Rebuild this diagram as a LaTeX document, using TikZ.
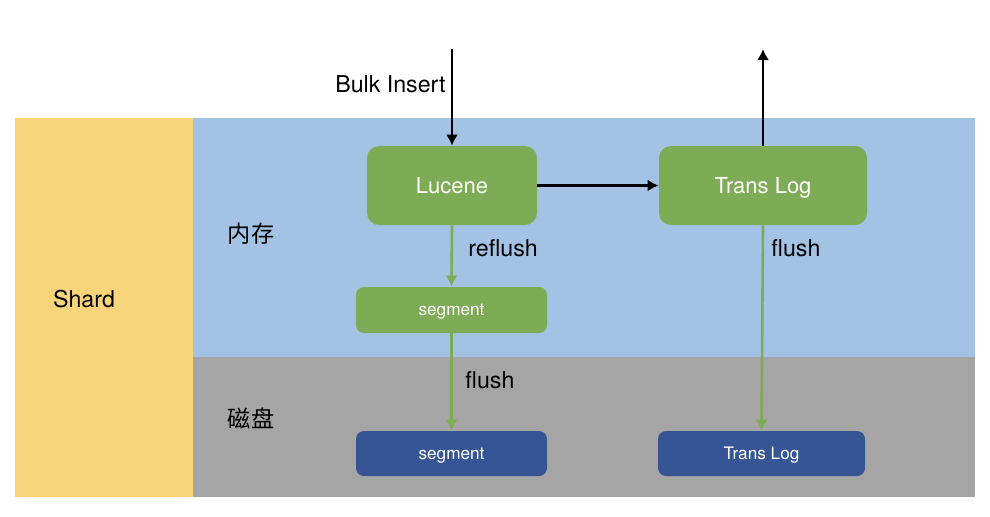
\documentclass[tikz,border=0pt]{standalone}
\usepackage{fontspec}
\setmainfont{TeX Gyre Heros}
\newfontfamily\cjk{Noto Sans CJK SC}
\usetikzlibrary{arrows.meta}
\tikzset{>={Latex[length=5.5pt,width=6pt]}}
\definecolor{mem}{HTML}{A4C2E4}
\definecolor{disk}{HTML}{A5A5A5}
\definecolor{shardc}{HTML}{F8D57A}
\definecolor{g1}{HTML}{7EAB55}
\definecolor{b1}{HTML}{365594}
\newcommand\labelfont{\fontsize{11.6}{14}\selectfont}
\tikzstyle{big box}=[fill=g1,text=white,rounded corners=6pt,minimum height=39.5pt,text depth=0pt,font=\fontsize{11}{13}\selectfont]
\tikzstyle{small box}=[text=white,rounded corners=4pt,minimum width=95.5pt,text depth=0pt,font=\fontsize{8.6}{10}\selectfont]
\tikzstyle{flow}=[->,black,line width=1.4pt]
\tikzstyle{green flow}=[->,g1,line width=1.3pt]
\tikzstyle{lbl}=[font=\labelfont,inner sep=0pt]

\begin{document}
\begin{tikzpicture}[x=0.5pt,y=-0.5pt]
  \useasboundingbox (0,0) rectangle (990,516);
  \fill[shardc] (15,118) rectangle (193,497);
  \fill[mem] (193,118) rectangle (975,357);
  \fill[disk] (193,357) rectangle (975,497);
  \node[lbl] (shard) at (84,299) {Shard};
  \node[lbl,font=\labelfont\cjk] (memlbl) at (251,234) {内存};
  \node[lbl,font=\labelfont\cjk] (disklbl) at (251,418) {磁盘};
  % memory
  \node[big box,minimum width=85pt] (lucene) at (452,185.5) {Lucene};
  \node[big box,minimum width=104pt] (translog) at (763,185.5) {Trans Log};
  \node[small box,fill=g1,minimum height=23pt] (segmem) at (451.5,310) {segment};
  % disk
  \node[small box,fill=b1,minimum height=22.5pt] (segdisk) at (451.5,453.5) {segment};
  \node[small box,fill=b1,minimum width=103.5pt,minimum height=22.5pt] (transdisk) at (761.5,453.5) {Trans Log};
  \coordinate (in) at (452,49);
  \coordinate (out) at (763,49);
  \draw[flow] (in) -- (lucene.north);
  \draw[flow] (translog.north) -- (out);
  \draw[flow] (lucene.east) -- (translog.west);
  \draw[green flow] (lucene.south) -- (segmem.north);
  \draw[green flow] (segmem.south) -- (segdisk.north);
  \draw[green flow] (translog.south) -- (transdisk.north);
  \node[lbl,anchor=east] (bulk) at (446,84) {Bulk Insert};
  \node[lbl,anchor=west] (reflush) at (468,248) {reflush};
  \node[lbl,anchor=west] (flushlog) at (771,248) {flush};
  \node[lbl,anchor=west] (flushseg) at (465,380) {flush};
\end{tikzpicture}
\end{document}
